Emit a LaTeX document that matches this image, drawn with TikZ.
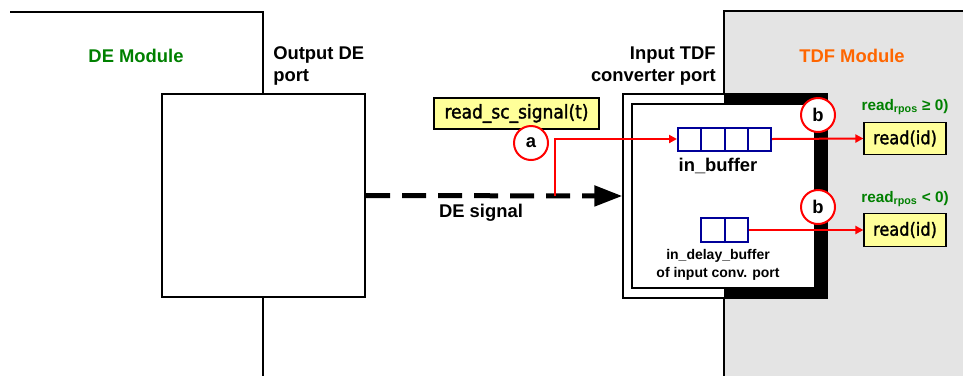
\documentclass[tikz,border=0pt]{standalone}
\usepackage{fontspec}
\setmainfont{Liberation Sans}
\newfontfamily\boxfont[FakeBold=1.6]{DejaVu Sans Condensed}
\usetikzlibrary{arrows.meta,calc}
\definecolor{degreen}{RGB}{0,128,0}
\definecolor{tdforange}{RGB}{255,102,0}
\definecolor{tdfgray}{RGB}{228,228,228}
\definecolor{codeyellow}{RGB}{255,255,153}
\definecolor{bufblue}{RGB}{0,0,153}
\definecolor{linkred}{RGB}{255,0,0}
\tikzset{
  px/.style={x=0.75pt,y=-0.75pt},
  frame/.style={draw=black,line width=1.5pt},
  title/.style={font=\fontsize{13.8}{16.5}\selectfont\bfseries,inner sep=0pt},
  codebox/.style={draw=black,line width=0.9pt,fill=codeyellow,inner sep=0pt},
  buffer/.style={draw=bufblue,line width=1.5pt,fill=white,inner sep=0pt},
  mark circle/.style={circle,draw=linkred,line width=1.5pt,fill=white,
    minimum size=25.5pt,inner sep=0pt,font=\fontsize{13.8}{16}\selectfont\bfseries},
  redline/.style={draw=linkred,line width=1.5pt,-{Triangle[length=6pt,width=6pt]}},
  cond/.style={text=degreen,inner sep=0pt,font=\fontsize{11.5}{14}\selectfont\bfseries},
}
\begin{document}
\begin{tikzpicture}[px]
\useasboundingbox (0,0) rectangle (963,376);
% TDF module background
\fill[tdfgray] (724,11) rectangle (963,376);
\draw[frame] (963,11) -- (724,11) -- (724,376);
% DE module outline
\draw[frame] (10,12) -- (263,12) -- (263,94);
\draw[frame] (263,297) -- (263,376);
% Output DE port
\node[frame,fill=white,minimum width=203*0.75pt,minimum height=203*0.75pt,inner sep=0pt] (deport) at (263.5,195.5) {};
% Input converter port
\node[draw=black,line width=1pt,fill=white,minimum width=204*0.75pt,minimum height=204*0.75pt,inner sep=0pt] (conv) at (725,196) {};
\fill[black] (724,94) -- (827,94) -- (827,298) -- (724,298) -- (724,288) -- (815,288) -- (815,104) -- (724,104) -- cycle;
\node[frame,fill=white,minimum width=183*0.75pt,minimum height=184*0.75pt,inner sep=0pt] (convin) at (723.5,196) {};
% titles
\node[title,text=degreen] (demod) at (136,56) {DE Module};
\node[title,align=left,anchor=west] (outlbl) at (273,66) {Output DE\\port};
\node[title,align=right,anchor=east] (inlbl) at (716,66) {Input TDF\\converter port};
\node[title,text=tdforange] (tdfmod) at (852,56) {TDF Module};
% DE signal
\draw[line width=3.75pt,dash pattern=on 18pt off 9pt,-{Triangle[length=21pt,width=15pt]}] (deport.east) -- (conv.west);
\node[title] (desig) at (481,213) {DE signal};
% code box and circles
\node[codebox,minimum width=165*0.75pt,minimum height=31*0.75pt,font=\boxfont\fontsize{14.2}{16}\selectfont] (rsc) at (516.5,113.5) {read\_sc\_signal(t)};
\node[mark circle] (ca) at (531,143) {a};
% buffers
\node[buffer,minimum width=93*0.75pt,minimum height=23*0.75pt] (inbuf) at (724.5,139) {};
\foreach \f in {0.25,0.5,0.75}
  \draw[bufblue,line width=1.5pt] ($(inbuf.south west)!\f!(inbuf.south east)$) -- ($(inbuf.north west)!\f!(inbuf.north east)$);
\node[title] (inbuflbl) at (718,166) {in\_buffer};
\node[buffer,minimum width=47*0.75pt,minimum height=24*0.75pt] (delbuf) at (724.5,230) {};
\draw[bufblue,line width=1.5pt] (delbuf.south) -- (delbuf.north);
\node[font=\fontsize{10.5}{13}\selectfont\bfseries,align=center,inner sep=0pt] (dellbl) at (718,265) {in\_delay\_buffer\\of input conv. port};
% read boxes
\node[codebox,minimum width=82*0.75pt,minimum height=32*0.75pt,font=\boxfont\fontsize{13.5}{15}\selectfont] (rd1) at (905,138.5) {read(id)};
\node[codebox,minimum width=82*0.75pt,minimum height=33*0.75pt,font=\boxfont\fontsize{13.5}{15}\selectfont] (rd2) at (905,230) {read(id)};
\node[cond] (c1) at (905,107) {read\textsubscript{rpos} ≥ 0)};
\node[cond] (c2) at (905,199) {read\textsubscript{rpos} < 0)};
% red connectors
\coordinate (tap) at (555,196);
\draw[redline] (tap) |- (inbuf.west);
\draw[redline] (inbuf.east) -- (rd1.west);
\draw[redline] (delbuf.east) -- (rd2.west);
\node[mark circle] (cb1) at (818,115) {b};
\node[mark circle] (cb2) at (818,207) {b};
\end{tikzpicture}
\end{document}
